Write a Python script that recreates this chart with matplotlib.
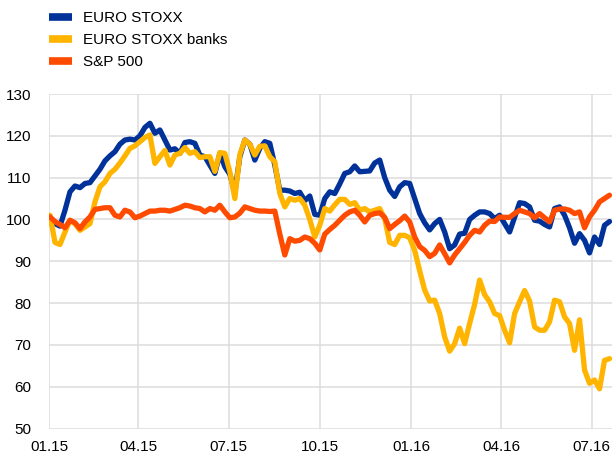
import matplotlib
matplotlib.use("Agg")
import matplotlib.pyplot as plt
import pandas as pd

plt.rcParams['font.family'] = ['Liberation Sans', 'DejaVu Sans']

# ---- data (index, 01.01.2015 = 100) ----
start_date = "2015-01-02"
end_date = "2016-07-19"

euro_stoxx = [
    100, 99, 98.4, 102.2, 106.6, 108, 107.6, 108.6, 108.8, 110.4,
    112, 114, 115.2, 116.2, 118, 119, 119.2, 119, 120, 122,
    123, 120.6, 121.4, 119, 116.6, 116.9, 115.8, 118.4, 118.6, 118.2,
    115.4, 115, 113, 111, 115.8, 112.6, 110.8, 106.5, 115, 119,
    118, 114.2, 117, 118.6, 118.2, 113, 107, 107, 106.8, 106.2,
    106.5, 104.5, 105.6, 101.2, 101, 105, 106.6, 106.2, 108.5, 111,
    111.4, 112.8, 111.4, 111.5, 111.6, 113.5, 114.2, 110, 107, 105.5,
    107.8, 108.8, 108.6, 105, 101.4, 99.2, 97.5, 99, 100, 97,
    93, 93.9, 96.5, 96.7, 100, 101, 101.8, 101.8, 101.4, 100.2,
    101, 99, 97, 100.5, 104, 103.8, 103, 99.8, 99.6, 98.8,
    98.2, 102.6, 103, 101, 98, 94.3, 96.6, 95, 92, 95.8,
    94, 98.6, 99.5,
]

euro_stoxx_banks = [
    101, 94.5, 94, 97, 99.8, 99, 97.4, 98.2, 99, 104.2,
    107.8, 109, 111, 112, 113.5, 115.2, 117, 117.6, 118.6, 119.6,
    120.2, 113.4, 115, 116.5, 113, 115.4, 115.8, 117.2, 115.8, 116.2,
    114.8, 115, 115, 111.5, 116, 115.8, 111.4, 105, 115.5, 119,
    118, 115.4, 117.5, 117.6, 115, 113.8, 106.2, 103, 105, 104.6,
    105, 103.4, 100, 95.8, 98.6, 102.6, 102, 103.5, 104.8, 104.8,
    103.6, 104, 102.2, 102.6, 101.8, 102.2, 102.6, 100.2, 94.5, 94,
    96.2, 96.2, 95.6, 92.6, 87.7, 83.1, 80.5, 80.7, 77.5, 71.9,
    68.5, 70.3, 74, 70.3, 75.1, 79.7, 85.5, 82, 80.3, 77.5,
    77, 73.5, 70.5, 77.5, 80.3, 83, 80.5, 74.3, 73.5, 73.5,
    75.5, 80.7, 80.3, 76.7, 75.1, 68.7, 76, 64, 60.8, 61.6,
    59.5, 66.3, 66.7,
]

sp500 = [
    100.6, 99.5, 98.8, 98, 99.8, 99.2, 97.8, 99.4, 100.6, 102.4,
    102.6, 102.8, 102.8, 101, 100.6, 102.2, 101.8, 100.4, 100.8, 101.4,
    102, 102, 102.2, 102.2, 102, 102.4, 102.8, 103.4, 103.2, 102.8,
    102.6, 101.8, 102.6, 102.2, 103.4, 101.8, 100.4, 100.6, 101.5, 103,
    102.6, 102.2, 102, 102, 101.9, 102, 96.5, 91.5, 95.4, 94.8,
    95, 95.8, 95.4, 94.3, 92.7, 96.5, 97.6, 98.6, 99.8, 101,
    101.8, 102.2, 101, 99.4, 101, 101.4, 101.6, 100.5, 97.8, 98.8,
    99.7, 100.8, 99.4, 95.8, 93.5, 92.6, 91.1, 91.9, 93.9, 91.8,
    89.6, 91.5, 93, 94.5, 96.2, 97.4, 97, 98.6, 99.6, 99.5,
    100.6, 100.5, 100.5, 101.4, 102.2, 101.8, 101.4, 100.4, 101.4, 100.4,
    99.4, 102.2, 102.5, 102.5, 102.2, 101.4, 101.8, 98, 100.6, 102.2,
    104.2, 105, 105.8,
]

series_names = ["EURO STOXX", "EURO STOXX banks", "S&P 500"]
series_colors = ["#003299", "#FFB400", "#FF4B00"]

tick_dates = ["2015-01-01", "2015-04-01", "2015-07-01", "2015-10-01",
              "2016-01-01", "2016-04-01", "2016-07-01"]
tick_labels = ["01.15", "04.15", "07.15", "10.15", "01.16", "04.16", "07.16"]
y_ticks = [50, 60, 70, 80, 90, 100, 110, 120, 130]

dates = pd.date_range(start_date, end_date, periods=len(euro_stoxx))

# ---- figure ----
fig = plt.figure(figsize=(6.14, 4.54), dpi=100)
ax = fig.add_axes([49 / 614, 1 - 428.5 / 454, (612 - 49) / 614, (428.5 - 94) / 454])

for vals, name, col in zip([euro_stoxx, euro_stoxx_banks, sp500], series_names, series_colors):
    ax.plot(dates, vals, color=col, lw=3.8, label=name, solid_joinstyle='round',
            solid_capstyle='round')

ax.set_ylim(50, 130)
ax.set_yticks(y_ticks)
ax.set_xlim(pd.Timestamp("2015-01-01"), pd.Timestamp("2016-07-21 12:00"))
ax.set_xticks(pd.to_datetime(tick_dates))
ax.set_xticklabels(tick_labels)

ax.grid(True, color="#dcdcdc", lw=1.1)
ax.set_axisbelow(True)
for s in ax.spines.values():
    s.set_visible(False)
ax.tick_params(axis='both', length=0, labelsize=11, colors="#000000")
ax.tick_params(axis='y', pad=13)
ax.tick_params(axis='x', pad=8)

handles, labels = ax.get_legend_handles_labels()
leg = fig.legend(handles, labels, loc='upper left',
                 bbox_to_anchor=(49 / 614, 1 - 11 / 454),
                 frameon=False, fontsize=11, borderpad=0, borderaxespad=0,
                 handlelength=1.5, handletextpad=0.7, labelspacing=0.52)
for h in leg.get_lines():
    h.set_linewidth(5.5)
    h.set_solid_capstyle('butt')

fig.savefig("out.png", dpi=100)
